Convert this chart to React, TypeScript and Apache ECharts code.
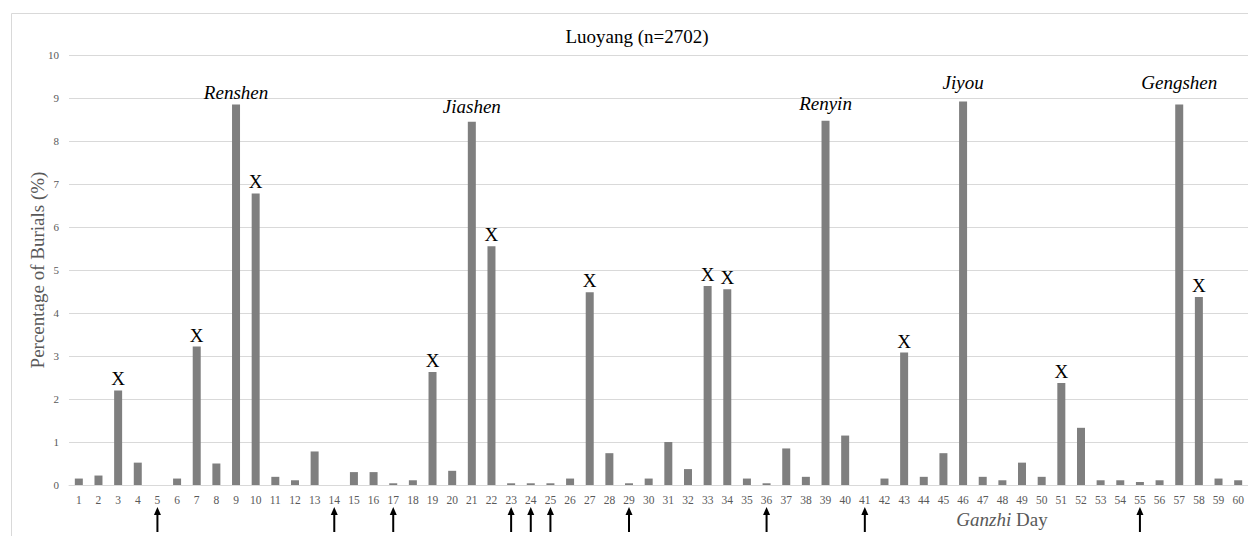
import React, { useEffect, useRef } from "react";
import * as echarts from "echarts";

// Ganzhi day numbers 1..60
const days: string[] = Array.from({ length: 60 }, (_, i) => String(i + 1));

// Percentage of burials on each ganzhi day (Luoyang, n=2702)
const burialPct: number[] = [
  0.15, 0.22, 2.2, 0.52, 0, 0.15, 3.22, 0.5, 8.85, 6.78,
  0.19, 0.11, 0.78, 0, 0.3, 0.3, 0.04, 0.11, 2.63, 0.33,
  8.45, 5.55, 0.04, 0.04, 0.04, 0.15, 4.48, 0.74, 0.04, 0.15,
  1.0, 0.37, 4.63, 4.55, 0.15, 0.04, 0.85, 0.19, 8.47, 1.15,
  0, 0.15, 3.08, 0.19, 0.74, 8.92, 0.19, 0.11, 0.52, 0.19,
  2.37, 1.33, 0.11, 0.11, 0.07, 0.11, 8.85, 4.37, 0.15, 0.11,
];

// Days flagged with an "X"
const xDays: number[] = [3, 7, 10, 19, 22, 27, 33, 34, 43, 51, 58];

// Named peak days
const namedDays: number[] = [9, 21, 39, 46, 57];
const namedLabels: string[] = ["Renshen", "Jiashen", "Renyin", "Jiyou", "Gengshen"];

// Days marked with an arrow beneath the axis
const arrowDays: number[] = [5, 14, 17, 23, 24, 25, 29, 36, 41, 55];

const SERIF = "'Liberation Serif', 'Times New Roman', serif";
const GRID = "#d9d9d9";
const TICK = "#595959";

// label lift above the bar top for each named peak
const namedDistance: Record<string, number> = {
  Renshen: 2,
  Jiashen: 6,
  Renyin: 8,
  Jiyou: 9,
  Gengshen: 12,
};

function buildBarData() {
  return burialPct.map((v, i) => {
    const day = i + 1;
    const ni = namedDays.indexOf(day);
    if (ni >= 0) {
      const name = namedLabels[ni];
      return {
        value: v,
        label: {
          show: true,
          position: "top",
          distance: namedDistance[name] ?? 6,
          formatter: name,
          fontFamily: SERIF,
          fontStyle: "italic",
          fontSize: 19,
          color: "#000",
        },
      };
    }
    if (xDays.includes(day)) {
      return {
        value: v,
        label: {
          show: true,
          position: "top",
          distance: 2,
          formatter: "X",
          fontFamily: SERIF,
          fontSize: 19,
          color: "#000",
        },
      };
    }
    return { value: v };
  });
}

export default function App() {
  const ref = useRef<HTMLDivElement>(null);

  useEffect(() => {
    if (!ref.current) return;
    const chart = echarts.init(ref.current, undefined, { renderer: "svg" });

    const option: any = {
      animation: false,
      backgroundColor: "#fff",
      title: {
        text: "Luoyang (n=2702)",
        left: 632,
        top: 22,
        textAlign: "center",
        textStyle: {
          fontFamily: SERIF,
          fontSize: 19,
          fontWeight: "normal",
          color: "#000",
        },
      },
      grid: { left: 69, right: 0, top: 55, bottom: 51, containLabel: false },
      xAxis: {
        type: "category",
        data: days,
        axisLine: { show: true, lineStyle: { color: GRID, width: 1 } },
        axisTick: { show: false },
        axisLabel: {
          interval: 0,
          margin: 9,
          fontFamily: SERIF,
          fontSize: 11.5,
          color: TICK,
        },
      },
      yAxis: {
        type: "value",
        min: 0,
        max: 10,
        interval: 1,
        name: "Percentage of Burials (%)",
        nameLocation: "middle",
        nameMoveOverlap: false,
        nameGap: 22,
        nameTextStyle: { fontFamily: SERIF, fontSize: 19, color: TICK },
        axisLine: { show: false },
        axisTick: { show: false },
        axisLabel: { margin: 10, fontFamily: SERIF, fontSize: 11, color: TICK },
        splitLine: { lineStyle: { color: GRID, width: 1 } },
      },
      graphic: [
        {
          type: "rect",
          shape: { x: 11.5, y: 13.5, width: 1400, height: 700 },
          style: { fill: "none", stroke: GRID, lineWidth: 1 },
          silent: true,
        },
        {
          type: "text",
          x: 1002,
          y: 519,
          style: {
            text: "{i|Ganzhi} Day",
            textAlign: "center",
            textVerticalAlign: "middle",
            fontFamily: SERIF,
            fontSize: 19,
            fill: TICK,
            rich: {
              i: { fontFamily: SERIF, fontSize: 19, fontStyle: "italic", color: TICK },
            },
          },
        },
      ],
      series: [
        {
          type: "bar",
          data: buildBarData(),
          barWidth: 8,
          itemStyle: { color: "#7f7f7f" },
          silent: true,
        },
        {
          type: "custom",
          clip: false,
          silent: true,
          data: arrowDays.map((d) => [String(d), 0]),
          renderItem: (params: any, api: any) => {
            const p = api.coord([api.value(0), 0]);
            const x = p[0];
            const top = p[1] + 22;
            const bottom = p[1] + 47;
            return {
              type: "group",
              children: [
                {
                  type: "line",
                  shape: { x1: x, y1: top + 6, x2: x, y2: bottom },
                  style: { stroke: "#000", lineWidth: 2 },
                },
                {
                  type: "polygon",
                  shape: {
                    points: [
                      [x, top],
                      [x - 3.5, top + 8],
                      [x + 3.5, top + 8],
                    ],
                  },
                  style: { fill: "#000" },
                },
              ],
            };
          },
        },
      ],
    };

    chart.setOption(option);
    return () => chart.dispose();
  }, []);

  return (
    <div
      ref={ref}
      style={{ position: "fixed", left: 0, top: 0, width: 1248, height: 536 }}
    />
  );
}
